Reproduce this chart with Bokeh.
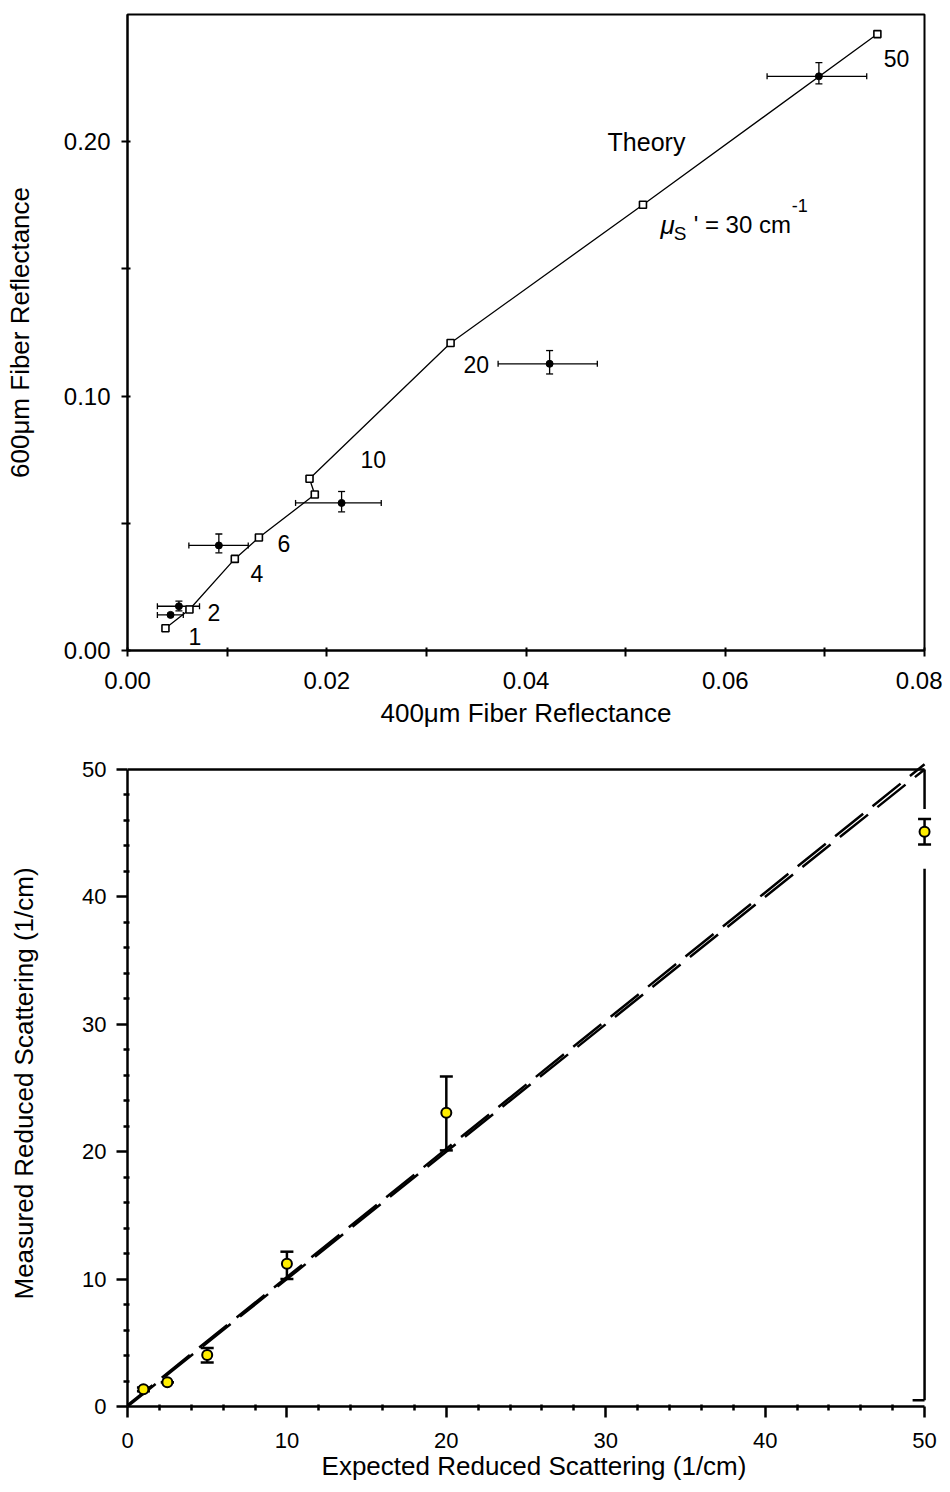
from bokeh.plotting import figure
from bokeh.models import (Range1d, FixedTicker, PrintfTickFormatter, Whisker, TeeHead,
                          ColumnDataSource)
from bokeh.embed import file_html
from bokeh.resources import INLINE
from bokeh.core.properties import value

FONT = "Liberation Sans"

# ---------------- top panel data ----------------
theory_x = [0.00381, 0.00622, 0.01077, 0.01319, 0.0188, 0.01827, 0.03243, 0.05174, 0.07527]
theory_y = [0.00876, 0.0161, 0.0360, 0.0444, 0.0613, 0.0675, 0.1209, 0.1752, 0.2423]

meas_x = [0.00432, 0.00516, 0.00917, 0.02149, 0.04237, 0.0694]
meas_y = [0.0140, 0.0174, 0.0413, 0.0580, 0.1127, 0.2257]
meas_x_lo = [0.0030, 0.0030, 0.00616, 0.01687, 0.0372, 0.0642]
meas_x_hi = [0.0056, 0.00723, 0.01212, 0.02547, 0.04716, 0.0742]
meas_y_lo = [0.0134, 0.0156, 0.0384, 0.0545, 0.1087, 0.2227]
meas_y_hi = [0.0146, 0.0194, 0.0458, 0.0625, 0.1179, 0.2311]

pt_labels = ["1", "2", "4", "6", "10", "20", "50"]
top_x_ticks = [0.0, 0.02, 0.04, 0.06, 0.08]
top_x_minor = [0.01, 0.03, 0.05, 0.07]
top_y_ticks = [0.0, 0.10, 0.20]
top_y_minor = [0.05, 0.15]

# ---------------- bottom panel data ----------------
expected = [1, 2.5, 5, 10, 20, 50]
measured = [1.35, 1.9, 4.05, 11.2, 23.05, 45.1]
measured_lo = [1.2, 1.9, 3.45, 10.0, 20.1, 44.1]
measured_hi = [1.5, 1.9, 4.6, 12.15, 25.9, 46.1]
identity_x = [0, 50]
identity_y = [0, 50]
fit_x = [0, 50]
fit_y = [0.1, 50.4]
bot_ticks = [0, 10, 20, 30, 40, 50]
bot_minor = [2, 4, 6, 8, 12, 14, 16, 18, 22, 24, 26, 28, 32, 34, 36, 38, 42, 44, 46, 48]


def style_axis(ax, tick_size, label_size):
    ax.major_label_text_font = FONT
    ax.major_label_text_font_size = tick_size
    ax.major_label_text_color = "black"
    ax.axis_label_text_font = FONT
    ax.axis_label_text_font_size = label_size
    ax.axis_label_text_font_style = "normal"
    ax.axis_label_text_color = "black"
    ax.axis_line_color = "black"
    ax.major_tick_line_color = "black"
    ax.minor_tick_line_color = "black"


# ================= top figure =================
p1 = figure(width=942, height=748, x_range=Range1d(0, 0.08), y_range=Range1d(0, 0.25),
            output_backend="svg", toolbar_location=None,
            min_border_left=127, min_border_right=18, min_border_top=14, min_border_bottom=98)
p1.grid.visible = False
p1.outline_line_color = "black"
p1.outline_line_width = 2
p1.background_fill_color = "white"
p1.border_fill_color = "white"

p1.xaxis.ticker = FixedTicker(ticks=top_x_ticks, minor_ticks=top_x_minor)
p1.yaxis.ticker = FixedTicker(ticks=top_y_ticks, minor_ticks=top_y_minor)
p1.xaxis.formatter = PrintfTickFormatter(format="%.2f")
p1.yaxis.formatter = PrintfTickFormatter(format="%.2f")
for ax in (p1.xaxis, p1.yaxis):
    style_axis(ax, "24px", "26px")
    ax.axis_line_width = 2
    ax.major_tick_line_width = 2
    ax.minor_tick_line_width = 2
    ax.major_tick_in = 3
    ax.major_tick_out = 6
    ax.minor_tick_in = 3
    ax.minor_tick_out = 6
p1.xaxis.major_label_standoff = 15
p1.yaxis.major_label_standoff = 11
p1.xaxis.axis_label = "400\u03bcm Fiber Reflectance"
p1.yaxis.axis_label = "600\u03bcm Fiber Reflectance"
p1.xaxis.axis_label_standoff = 6
p1.yaxis.axis_label_standoff = 26

p1.line(theory_x, theory_y, line_color="black", line_width=1.3)
p1.scatter(theory_x, theory_y, marker="square", size=7, fill_color="white",
           line_color="black", line_width=1.6)

src1 = ColumnDataSource(dict(x=meas_x, y=meas_y, xl=meas_x_lo, xh=meas_x_hi,
                             yl=meas_y_lo, yh=meas_y_hi))
p1.add_layout(Whisker(source=src1, base="y", lower="xl", upper="xh", dimension="width",
                      line_width=1.3,
                      lower_head=TeeHead(size=6, line_width=1.3),
                      upper_head=TeeHead(size=6, line_width=1.3)))
p1.add_layout(Whisker(source=src1, base="x", lower="yl", upper="yh", dimension="height",
                      line_width=1.3,
                      lower_head=TeeHead(size=7, line_width=1.3),
                      upper_head=TeeHead(size=7, line_width=1.3)))
p1.scatter("x", "y", source=src1, marker="circle", size=7, fill_color="black",
           line_color="black")

# annotation positions (data units)
YOFF = -9
lab_x = [0.00613, 0.00803, 0.01235, 0.01506, 0.02339, 0.03373, 0.0759]
lab_y = [0.0020, 0.0114, 0.0267, 0.0385, 0.0715, 0.1089, 0.2292]
p1.text(lab_x, lab_y, text=pt_labels, text_font=value(FONT), text_font_size="23px",
        text_baseline="alphabetic", text_align="left", text_color="black", y_offset=YOFF)
p1.text([0.04819], [0.1965], text=["Theory"], text_font=value(FONT), text_font_size="25px",
        text_baseline="alphabetic", text_align="left", text_color="black", y_offset=YOFF)
p1.text([0.05351], [0.1639], text=["\u03bc"], text_font=value(FONT), text_font_size="26px",
        text_font_style="italic", text_baseline="alphabetic", text_align="left",
        text_color="black", y_offset=YOFF)
p1.text([0.05482], [0.1602], text=["S"], text_font=value(FONT), text_font_size="19px",
        text_baseline="alphabetic", text_align="left", text_color="black", y_offset=YOFF)
p1.text([0.05683], [0.1639], text=["' = 30 cm"], text_font=value(FONT), text_font_size="24px",
        text_baseline="alphabetic", text_align="left", text_color="black", y_offset=YOFF)
p1.text([0.06667], [0.1712], text=["-1"], text_font=value(FONT), text_font_size="18px",
        text_baseline="alphabetic", text_align="left", text_color="black", y_offset=YOFF)

# ================= bottom figure =================
p2 = figure(width=942, height=736, x_range=Range1d(0, 51), y_range=Range1d(0, 50.7),
            output_backend="svg", toolbar_location=None,
            min_border_left=127, min_border_right=2, min_border_top=12, min_border_bottom=78)
p2.grid.visible = False
p2.outline_line_color = None
p2.background_fill_color = "white"
p2.border_fill_color = "white"

for ax in (p2.xaxis, p2.yaxis):
    style_axis(ax, "22px", "26px")
    ax.ticker = FixedTicker(ticks=bot_ticks, minor_ticks=bot_minor)
    ax.bounds = (0, 50)
    ax.axis_line_width = 2.5
    ax.major_tick_line_width = 2.5
    ax.minor_tick_line_width = 2.5
    ax.major_tick_in = 0
    ax.major_tick_out = 11
    ax.minor_tick_in = 2
    ax.minor_tick_out = 4
p2.xaxis.major_label_standoff = 15
p2.yaxis.major_label_standoff = 10
p2.xaxis.axis_label = "Expected Reduced Scattering (1/cm)"
p2.yaxis.axis_label = "Measured Reduced Scattering (1/cm)"
p2.xaxis.axis_label_standoff = 0
p2.yaxis.axis_label_standoff = 40

# frame top and broken right side
p2.line([0, 50], [50, 50], line_color="black", line_width=2.5)
p2.line([50, 50], [50, 46.9], line_color="black", line_width=2.5)
p2.line([50, 50], [42.2, 0.5], line_color="black", line_width=2.5)
p2.line([49.25, 50], [0.5, 0.5], line_color="black", line_width=2.5)

p2.line(identity_x, identity_y, line_color="black", line_width=2.5, line_dash="36 12")
p2.line(fit_x, fit_y, line_color="black", line_width=2.5, line_dash="36 12",
        line_dash_offset=4)

src2 = ColumnDataSource(dict(x=expected, y=measured, lo=measured_lo, hi=measured_hi))
p2.add_layout(Whisker(source=src2, base="x", lower="lo", upper="hi", dimension="height",
                      line_width=2.5, line_color="black",
                      lower_head=TeeHead(size=13, line_width=2.5),
                      upper_head=TeeHead(size=13, line_width=2.5)))
p2.scatter("x", "y", source=src2, marker="circle", size=10, fill_color="#ffee00",
           line_color="black", line_width=2)

open("out.html", "w").write(file_html([p1, p2], INLINE))
